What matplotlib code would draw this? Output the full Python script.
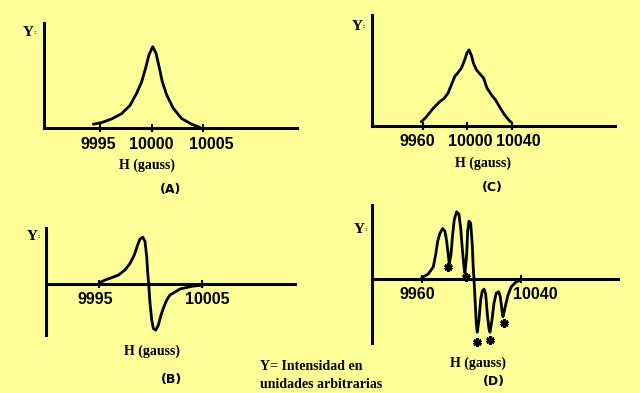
import matplotlib.pyplot as plt
from matplotlib.transforms import ScaledTranslation

fondo = '#FFFF99'

# (A) absorcion, linea unica
a_h = [9994.35, 9995.16, 9996.13, 9997.10, 9997.90, 9998.55, 9999.03, 9999.42, 9999.74,
       10000.10, 10000.42, 10000.71, 10001.03, 10001.45, 10002.09, 10002.90, 10003.87, 10004.68]
a_y = [0.05, 0.07, 0.115, 0.18, 0.28, 0.43, 0.57, 0.74, 0.90,
       1.0, 0.92, 0.76, 0.57, 0.41, 0.245, 0.12, 0.05, 0.01]

# (B) primera derivada
b_h = [9995.07, 9995.56, 9996.21, 9996.86, 9997.51, 9998.00, 9998.42, 9998.75, 9998.97, 9999.24,
       9999.46, 9999.63, 9999.73, 9999.82, 9999.95, 10000.12, 10000.27, 10000.51, 10000.76,
       10001.03, 10001.25, 10001.56, 10001.90, 10002.88, 10004.02, 10005.16]
b_y = [0.03, 0.085, 0.135, 0.19, 0.30, 0.44, 0.62, 0.84, 0.96, 1.0,
       0.91, 0.58, 0.23, 0.0, -0.41, -0.77, -0.95, -0.985, -0.88,
       -0.66, -0.52, -0.35, -0.235, -0.107, -0.05, -0.02]

# (C) absorcion con estructura hiperfina
c_h = [9958.8, 9963.3, 9969.3, 9975.3, 9979.1, 9982.7, 9985.8, 9988.8, 9991.7, 9994.8,
       9997.8, 9999.8, 10001.6, 10003.8, 10005.8, 10008.3, 10011.2, 10014.8, 10017.8,
       10021.8, 10025.6, 10029.2, 10033.7, 10038.2, 10039.7]
c_y = [0.055, 0.12, 0.23, 0.32, 0.36, 0.43, 0.54, 0.65, 0.70, 0.76,
       0.87, 0.96, 1.0, 0.93, 0.82, 0.74, 0.69, 0.63, 0.50,
       0.41, 0.34, 0.25, 0.145, 0.066, 0.05]

# (D) derivada con estructura hiperfina
d_h = [9959.95, 9965.27, 9969.30, 9971.23, 9972.84, 9974.70, 9976.87, 9978.73, 9980.10, 9981.39,
       9982.19, 9983.56, 9984.93, 9986.22, 9988.15, 9990.01, 9991.38, 9992.67, 9994.04, 9994.84,
       9996.21, 9997.02, 9998.07, 9999.44, 10000.73, 10001.53, 10002.10, 10003.14, 10003.95,
       10004.75, 10006.12, 10007.49, 10008.78, 10010.15, 10011.52, 10012.81, 10014.18, 10014.99,
       10016.60, 10018.21, 10020.06, 10022.00, 10023.29, 10024.66, 10025.46, 10027.32, 10029.49,
       10032.15, 10036.18, 10040.21]
d_y = [0.02, 0.075, 0.18, 0.36, 0.56, 0.68, 0.75, 0.71, 0.56, 0.36,
       0.23, 0.36, 0.66, 0.88, 1.0, 0.96, 0.76, 0.46, 0.18, 0.09,
       0.36, 0.71, 0.86, 0.83, 0.51, 0.16, 0.0, -0.36, -0.66,
       -0.79, -0.61, -0.31, -0.18, -0.15, -0.22, -0.51, -0.74, -0.79,
       -0.61, -0.36, -0.21, -0.19, -0.26, -0.46, -0.56, -0.41, -0.24,
       -0.115, -0.04, -0.015]
d_star_h = [9981.4, 9995.4, 10004.75, 10014.75, 10026.0]
d_star_y = [0.18, 0.03, -0.94, -0.91, -0.65]

a_ticks, a_labels = [9995, 10000, 10005], ['9995', '10000', '10005']
b_ticks, b_labels = [9995, 10005], ['9995', '10005']
c_ticks, c_labels = [9960, 10000, 10040], ['9960', '10000', '10040']
d_ticks, d_labels = [9960, 10040], ['9960', '10040']

fig = plt.figure(figsize=(6.4, 3.93), dpi=100, facecolor=fondo)


def px(x, y):
    # pixeles de la imagen -> coordenadas de figura
    return x / 640, 1 - y / 393


def panel(l, r, t, b, xlim, ylim, ticks, labels, shifts):
    ax = fig.add_axes([l / 640, 1 - b / 393, (r - l) / 640, (b - t) / 393])
    ax.set_facecolor('none')
    ax.set_xlim(xlim)
    ax.set_ylim(ylim)
    ax.spines['top'].set_visible(False)
    ax.spines['right'].set_visible(False)
    ax.spines['left'].set_linewidth(2.2)
    ax.spines['bottom'].set_linewidth(2.2)
    ax.spines['bottom'].set_position(('data', 0))
    ax.set_yticks([])
    ax.set_xticks(ticks, labels)
    ax.tick_params(axis='x', direction='inout', length=6, width=1.5, pad=3)
    # las etiquetas del original no estan centradas en la marca
    for t, dx in zip(ax.get_xticklabels(), shifts):
        t.set_fontweight('bold')
        t.set_fontsize(11.5)
        t.set_family('Liberation Sans')
        t.set_transform(t.get_transform() + ScaledTranslation(dx / 100, 0, fig.dpi_scale_trans))
    return ax


linea = dict(color='black', lw=2, solid_joinstyle='round', solid_capstyle='round')

axA = panel(43.5, 296.7, 22.7, 128.3, (9989.53, 10014.04), (0, 1.294), a_ticks, a_labels, [-2, 0, 8])
axA.plot(a_h, a_y, **linea)

axC = panel(371.7, 615, 15, 126, (9914.2, 10132.9), (0, 1.46), c_ticks, c_labels, [-5, 3, 7])
axC.plot(c_h, c_y, **linea)

axB = panel(46, 295, 228.3, 335, (9989.8, 10014.1), (-1.09, 1.19), b_ticks, b_labels, [-4, 6])
axB.plot(b_h, b_y, **linea)

axD = panel(371.7, 618.3, 205, 343.3, (9919.7, 10118.4), (-0.955, 1.10), d_ticks, d_labels, [-4, 14])
axD.plot(d_h, d_y, **linea)
axD.plot(d_star_h, d_star_y, ls='none', marker=(6, 2, 0), ms=6, mew=2, color='black', clip_on=False)

serif = dict(family='Liberation Serif', fontweight='bold', color='black')
sans = dict(family='DejaVu Sans', fontweight='bold', color='black')

# etiquetas Y
for x, y in [(28, 33), (357, 27), (32, 237), (359, 229)]:
    fig.text(*px(x, y), 'Y', fontsize=11, ha='center', va='center', **serif)
    fig.text(*px(x + 7, y), ':', fontsize=5, ha='center', va='center', **serif)

# H (gauss)
for x, y in [(147, 165), (483, 163), (152, 351), (478, 363)]:
    fig.text(*px(x, y), 'H (gauss)', fontsize=10, ha='center', va='center', **serif)

# letras de panel
for x, y, s in [(171, 190, '(A)'), (492, 187, '(C)'), (171, 380, '(B)'), (494, 382, '(D)')]:
    fig.text(*px(x, y), s, fontsize=9, ha='center', va='center', **sans)

fig.text(*px(260, 366), 'Y= Intensidad en', fontsize=10, ha='left', va='center', **serif)
fig.text(*px(260, 384), 'unidades arbitrarias', fontsize=10, ha='left', va='center', **serif)

fig.savefig('out.png', dpi=100, facecolor=fondo)
